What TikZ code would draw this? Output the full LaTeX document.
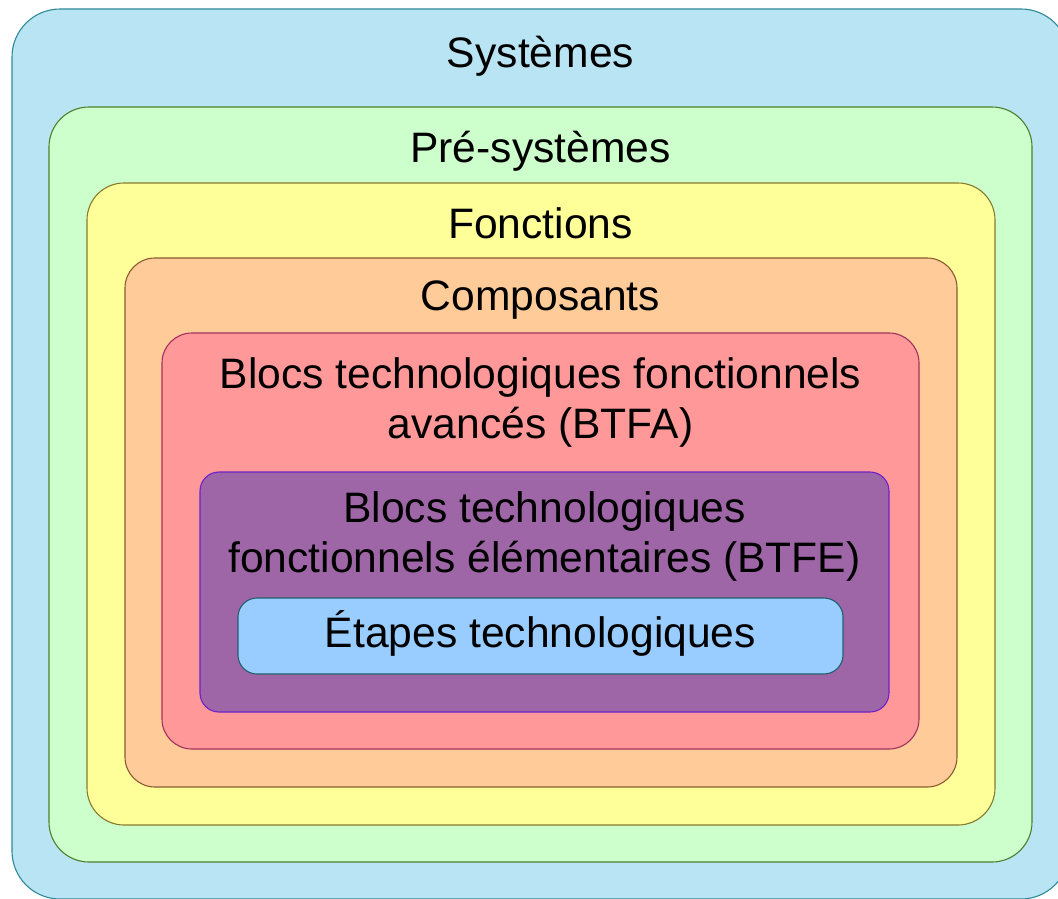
\documentclass[tikz,border=0pt]{standalone}
\usepackage{fontspec}
\setmainfont{Liberation Sans}
\definecolor{sysfill}{HTML}{B9E4F4}
\definecolor{sysline}{HTML}{2E8A96}
\definecolor{prefill}{HTML}{CCFFCC}
\definecolor{preline}{HTML}{4F7F2C}
\definecolor{fctfill}{HTML}{FFFF99}
\definecolor{fctline}{HTML}{8A7A2C}
\definecolor{cmpfill}{HTML}{FFCC99}
\definecolor{cmpline}{HTML}{8A5A32}
\definecolor{btfafill}{HTML}{FF9999}
\definecolor{btfaline}{HTML}{A3305E}
\definecolor{btfefill}{HTML}{9E66A6}
\definecolor{btfeline}{HTML}{6A22C8}
\definecolor{etpfill}{HTML}{99CCFF}
\definecolor{etpline}{HTML}{1F5F6C}
\tikzset{
  layer/.style={line width=1.1pt},
  label/.style={anchor=base, inner sep=0pt, align=center, text=black,
    font=\fontsize{42.6}{50}\selectfont}
}
\begin{document}
\begin{tikzpicture}[x=1pt, y=-1pt]
  \useasboundingbox (0,0) rectangle (1058,898);
  \fill[white] (0,0) rectangle (1058,898);
  % nested levels, outermost first
  \draw[layer, fill=sysfill, draw=sysline, rounded corners=48pt] (12,9) rectangle (1069,899);
  \draw[layer, fill=prefill, draw=preline, rounded corners=40pt] (49,107) rectangle (1032,862);
  \draw[layer, fill=fctfill, draw=fctline, rounded corners=37pt] (87,183) rectangle (995,825);
  \draw[layer, fill=cmpfill, draw=cmpline, rounded corners=30pt] (125,258) rectangle (957,787);
  \draw[layer, fill=btfafill, draw=btfaline, rounded corners=30pt] (162,333) rectangle (919,749);
  \draw[layer, fill=btfefill, draw=btfeline, rounded corners=19pt] (200,472) rectangle (889,712);
  \draw[layer, fill=etpfill, draw=etpline, rounded corners=19pt] (238,598) rectangle (843,674);
  % level names (two-line names are placed by their last baseline)
  \node[label] (sys)  at (540.5,67)  {Systèmes};
  \node[label] (pre)  at (540.5,162) {Pré-systèmes};
  \node[label] (fct)  at (540.5,238) {Fonctions};
  \node[label] (cmp)  at (540.5,310) {Composants};
  \node[label] (btfa) at (540.5,438) {Blocs technologiques fonctionnels\\avancés (BTFA)};
  \node[label] (btfe) at (544.5,572) {Blocs technologiques\\fonctionnels élémentaires (BTFE)};
  \node[label] (etp)  at (540.5,647) {Étapes technologiques};
\end{tikzpicture}
\end{document}
